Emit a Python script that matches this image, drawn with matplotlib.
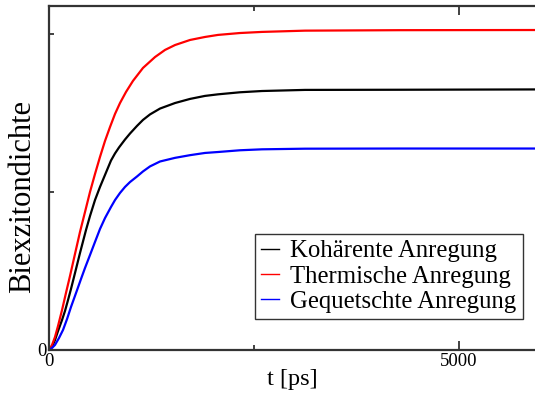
import matplotlib
matplotlib.use("Agg")
import matplotlib.pyplot as plt

plt.rcParams['font.family'] = ['Liberation Serif', 'DejaVu Serif']

# Werte (t in ps, Dichte in willk. Einheiten)
t_koh = [0, 37, 73, 110, 159, 195, 232, 268, 317, 378, 451, 500, 561, 622, 683, 756, 805, 854,
         927, 988, 1073, 1146, 1232, 1354, 1537, 1720, 1902, 2061, 2329, 2598, 3122, 4280, 5927]
n_koh = [0, 0.019, 0.063, 0.120, 0.190, 0.247, 0.316, 0.386, 0.487, 0.614, 0.759, 0.848, 0.949,
         1.032, 1.108, 1.199, 1.244, 1.282, 1.332, 1.370, 1.418, 1.456, 1.491, 1.528, 1.563,
         1.589, 1.608, 1.618, 1.631, 1.639, 1.646, 1.647, 1.649]

t_therm = [0, 37, 73, 110, 159, 207, 256, 317, 378, 439, 500, 561, 622, 683, 744, 805, 866, 939,
           1024, 1146, 1293, 1415, 1537, 1720, 1902, 2061, 2329, 2598, 3122, 4280, 5927]
n_therm = [0, 0.032, 0.082, 0.152, 0.253, 0.361, 0.468, 0.608, 0.747, 0.873, 1.000, 1.114,
           1.222, 1.323, 1.411, 1.494, 1.563, 1.633, 1.703, 1.785, 1.854, 1.899, 1.930, 1.962,
           1.981, 1.994, 2.006, 2.013, 2.021, 2.024, 2.025]

t_squeeze = [0, 37, 73, 122, 171, 220, 268, 338, 390, 439, 500, 561, 622, 683, 756, 805, 866,
             927, 988, 1073, 1146, 1232, 1354, 1537, 1720, 1902, 2061, 2329, 2598, 3122, 4280, 5927]
n_squeeze = [0, 0.013, 0.032, 0.076, 0.127, 0.196, 0.272, 0.373, 0.449, 0.519, 0.601, 0.684,
             0.766, 0.835, 0.905, 0.949, 0.994, 1.032, 1.063, 1.098, 1.130, 1.162, 1.193, 1.216,
             1.233, 1.247, 1.253, 1.264, 1.270, 1.274, 1.275, 1.275]

labels = ['Kohärente Anregung', 'Thermische Anregung', 'Gequetschte Anregung']
colors = ['black', 'red', 'blue']

fig = plt.figure(figsize=(5.35, 3.98), dpi=100)
ax = fig.add_axes([49 / 535, 48 / 398, 486 / 535, 344 / 398])

series = [(t_koh, n_koh), (t_therm, n_therm), (t_squeeze, n_squeeze)]
for (t, n), lab, col in zip(series, labels, colors):
    ax.plot(t, n, color=col, lw=1.6, label=lab)

ax.set_xlim(0, 5927)
ax.set_ylim(0, 2.177)

# Achsen im xmgrace-Stil
ax.set_xticks([0, 5000])
ax.set_xticks([2500], minor=True)
ax.set_yticks([0])
ax.set_yticks([1, 2], minor=True)
ax.tick_params(which='both', direction='in', top=True, right=False, width=1.3,
               labelsize=13.5, colors='#333333', labelcolor='black')
ax.tick_params(which='major', length=6.5, pad=2)
ax.tick_params(which='minor', length=3.8)
for side in ['left', 'bottom', 'top']:
    ax.spines[side].set_linewidth(1.6)
    ax.spines[side].set_color('#333333')
ax.spines['right'].set_visible(False)

ax.set_xlabel('t [ps]', fontsize=17.5)
ax.set_ylabel('Biexzitondichte', fontsize=22)
ax.xaxis.set_label_coords(0.5, -0.055)
ax.yaxis.set_label_coords(-0.025, 0.445)

leg = ax.legend(loc='lower right', bbox_to_anchor=(0.975, 0.09), fontsize=17.8,
                fancybox=False, framealpha=1, edgecolor='#333333',
                handlelength=0.75, handletextpad=0.45, borderpad=0.25, labelspacing=0.12,
                borderaxespad=0)
leg.get_frame().set_linewidth(1.0)
for line in leg.get_lines():
    line.set_linewidth(1.0)

fig.savefig('out.png', dpi=100)
